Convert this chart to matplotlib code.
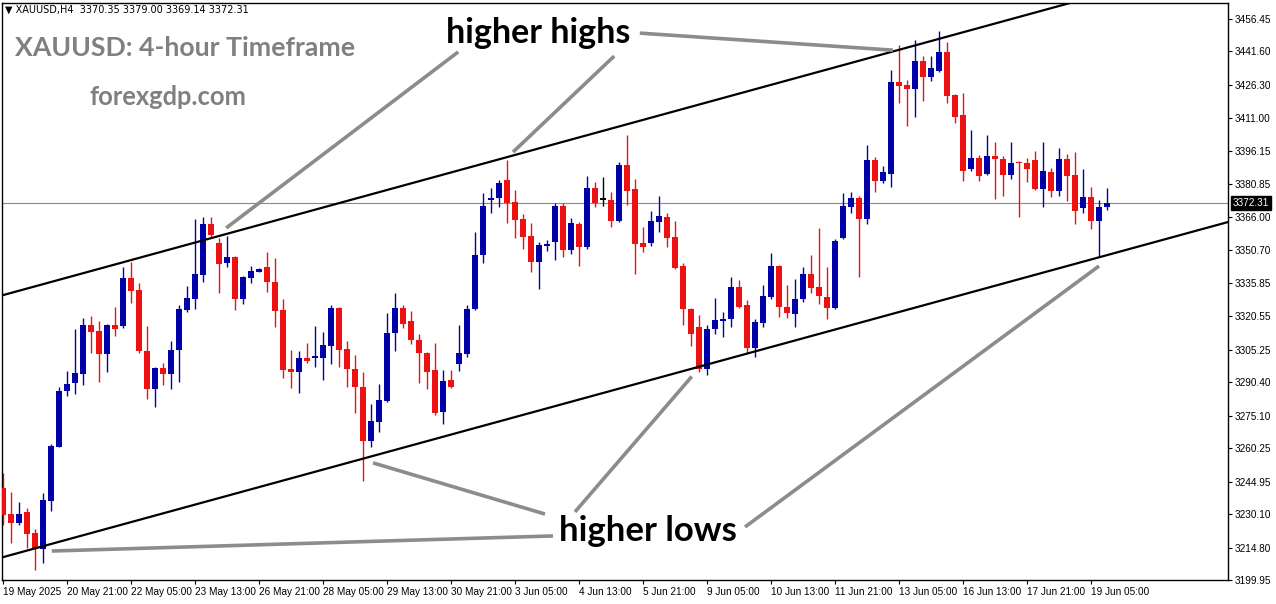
import numpy as np
import matplotlib.pyplot as plt

# XAUUSD H4 candles, 19 May 2025 - 19 Jun 2025
opens = [3242.0, 3230.1, 3226.0, 3231.1, 3221.5, 3214.1, 3236.1, 3260.8, 3286.4, 3290.0,
         3294.2, 3316.6, 3313.8, 3303.3, 3316.6, 3316.1, 3338.0, 3332.6, 3304.7, 3287.3,
         3296.9, 3294.2, 3305.1, 3323.4, 3328.4, 3339.4, 3362.7, 3354.0, 3344.9, 3347.6,
         3328.4, 3338.0, 3340.8, 3343.1, 3336.2, 3323.4, 3296.4, 3295.1, 3301.5, 3301.5,
         3301.5, 3306.9, 3324.3, 3305.6, 3296.4, 3288.2, 3263.5, 3272.2, 3281.8, 3312.9,
         3324.3, 3318.4, 3309.7, 3303.8, 3296.0, 3276.8, 3291.4, 3298.7, 3303.3, 3323.9,
         3348.6, 3373.7, 3374.6, 3382.8, 3372.8, 3365.0, 3357.2, 3345.4, 3352.7, 3354.5,
         3371.0, 3350.8, 3362.7, 3352.2, 3379.2, 3373.7, 3373.7, 3364.1, 3389.7, 3378.7,
         3354.0, 3354.0, 3363.6, 3365.9, 3356.8, 3343.5, 3323.9, 3315.6, 3296.4, 3314.7,
         3318.4, 3319.3, 3333.9, 3325.7, 3306.0, 3317.5, 3329.4, 3343.5, 3324.8, 3321.6,
         3328.4, 3339.9, 3333.9, 3329.4, 3324.3, 3356.3, 3370.5, 3374.6, 3365.0, 3392.0,
         3382.4, 3385.6, 3427.7, 3426.3, 3424.5, 3437.3, 3429.9, 3432.7, 3441.4, 3421.7,
         3412.6, 3387.9, 3392.9, 3385.6, 3393.8, 3392.5, 3385.1, 3390.9, 3390.6, 3392.0,
         3378.7, 3386.5, 3377.8, 3392.5, 3385.1, 3370.0, 3375.1, 3364.1, 3370.35]
closes = [3229.7, 3226.0, 3230.1, 3221.0, 3214.1, 3236.5, 3261.2, 3286.4, 3289.6, 3294.6,
          3316.6, 3313.4, 3303.3, 3316.6, 3314.7, 3338.0, 3332.1, 3304.7, 3287.3, 3296.9,
          3294.2, 3305.1, 3323.9, 3328.9, 3339.9, 3362.7, 3357.7, 3344.4, 3347.6, 3328.4,
          3338.5, 3341.2, 3342.2, 3336.2, 3323.0, 3296.0, 3295.1, 3301.5, 3300.1, 3301.9,
          3307.4, 3324.3, 3305.1, 3296.4, 3288.2, 3263.5, 3272.7, 3282.3, 3312.9, 3324.3,
          3317.0, 3309.7, 3303.8, 3295.1, 3276.3, 3291.0, 3288.2, 3303.8, 3323.9, 3348.6,
          3371.0, 3374.6, 3381.5, 3372.3, 3364.6, 3356.8, 3345.4, 3353.1, 3353.6, 3371.0,
          3350.8, 3363.2, 3352.2, 3379.2, 3372.3, 3373.7, 3364.1, 3389.7, 3377.8, 3353.6,
          3352.2, 3364.1, 3366.4, 3356.3, 3342.6, 3323.9, 3312.4, 3296.4, 3314.7, 3318.8,
          3319.3, 3333.9, 3324.8, 3306.0, 3317.9, 3329.8, 3343.5, 3324.8, 3322.0, 3328.4,
          3339.9, 3333.5, 3329.8, 3324.3, 3355.0, 3371.0, 3374.6, 3365.0, 3392.0, 3382.4,
          3386.5, 3427.7, 3425.8, 3424.5, 3437.3, 3429.9, 3434.1, 3441.4, 3421.3, 3411.7,
          3387.0, 3392.9, 3384.7, 3393.8, 3392.5, 3385.1, 3390.6, 3390.4, 3387.9, 3378.7,
          3387.0, 3377.8, 3392.5, 3384.7, 3368.7, 3375.1, 3364.1, 3370.5, 3372.31]
highs = [3248.9, 3240.2, 3235.6, 3232.9, 3223.3, 3239.7, 3262.1, 3288.2, 3295.5, 3314.7,
         3319.8, 3320.7, 3318.4, 3317.0, 3324.8, 3343.1, 3345.4, 3335.8, 3316.1, 3297.3,
         3299.2, 3309.2, 3325.7, 3334.4, 3365.0, 3365.9, 3365.9, 3356.3, 3357.2, 3348.0,
         3339.0, 3343.5, 3342.6, 3349.9, 3347.2, 3328.4, 3305.1, 3304.7, 3308.3, 3316.1,
         3313.4, 3325.7, 3324.8, 3309.2, 3302.8, 3295.1, 3280.4, 3289.6, 3322.0, 3331.2,
         3325.7, 3323.0, 3312.4, 3304.2, 3308.3, 3296.0, 3296.0, 3316.6, 3325.7, 3359.1,
         3376.9, 3379.2, 3382.8, 3392.0, 3378.3, 3367.3, 3363.2, 3354.5, 3355.4, 3372.3,
         3372.3, 3365.5, 3363.6, 3384.7, 3381.9, 3384.2, 3377.4, 3391.1, 3403.4, 3383.3,
         3361.4, 3368.7, 3375.5, 3367.8, 3364.1, 3344.9, 3324.3, 3321.1, 3316.6, 3328.9,
         3322.5, 3338.5, 3337.1, 3328.0, 3319.3, 3334.8, 3349.5, 3344.0, 3334.8, 3337.6,
         3343.1, 3348.6, 3360.9, 3343.1, 3355.9, 3376.9, 3377.4, 3375.5, 3398.9, 3393.4,
         3389.2, 3433.1, 3444.6, 3428.6, 3446.9, 3439.5, 3439.5, 3451.0, 3445.9, 3422.1,
         3422.6, 3405.7, 3394.3, 3403.4, 3400.2, 3393.8, 3400.2, 3391.5, 3392.9, 3396.1,
         3400.2, 3388.3, 3397.5, 3394.7, 3395.7, 3387.9, 3379.6, 3373.7, 3379.00]
lows = [3225.1, 3216.9, 3225.1, 3214.6, 3204.5, 3207.7, 3231.5, 3260.8, 3284.1, 3285.0,
        3289.1, 3303.8, 3290.5, 3295.1, 3311.5, 3315.2, 3326.6, 3303.8, 3282.7, 3279.1,
        3289.1, 3287.3, 3290.5, 3322.5, 3323.9, 3336.2, 3356.3, 3331.2, 3343.1, 3323.4,
        3326.2, 3335.8, 3340.8, 3331.6, 3315.6, 3292.3, 3287.8, 3285.5, 3299.2, 3297.4,
        3291.4, 3298.7, 3297.4, 3288.2, 3276.3, 3245.2, 3260.8, 3267.6, 3281.3, 3304.7,
        3315.2, 3307.9, 3290.0, 3287.3, 3275.4, 3271.3, 3287.8, 3295.5, 3301.9, 3323.4,
        3344.9, 3367.8, 3370.5, 3363.2, 3356.3, 3351.3, 3340.8, 3333.0, 3350.4, 3346.3,
        3347.6, 3349.0, 3343.5, 3351.3, 3370.5, 3371.0, 3361.4, 3363.6, 3371.4, 3339.9,
        3349.9, 3352.7, 3359.1, 3352.2, 3342.2, 3316.6, 3307.0, 3295.1, 3293.7, 3312.4,
        3311.1, 3315.6, 3324.3, 3303.8, 3301.9, 3315.6, 3328.4, 3320.2, 3319.8, 3315.6,
        3327.1, 3331.2, 3326.2, 3319.3, 3323.9, 3355.9, 3367.8, 3338.5, 3362.7, 3377.4,
        3381.5, 3379.6, 3418.1, 3407.5, 3411.7, 3419.0, 3428.1, 3432.2, 3418.1, 3408.9,
        3382.4, 3387.0, 3382.4, 3385.1, 3374.2, 3375.5, 3383.3, 3365.9, 3381.9, 3378.3,
        3370.5, 3375.1, 3375.5, 3373.2, 3362.7, 3367.8, 3360.4, 3347.6, 3369.14]

date_labels = ["19 May 2025", "20 May 21:00", "22 May 05:00", "23 May 13:00", "26 May 21:00",
               "28 May 05:00", "29 May 13:00", "30 May 21:00", "3 Jun 05:00", "4 Jun 13:00",
               "5 Jun 21:00", "9 Jun 05:00", "10 Jun 13:00", "11 Jun 21:00", "13 Jun 05:00",
               "16 Jun 13:00", "17 Jun 21:00", "19 Jun 05:00"]
price_ticks = [3456.45, 3441.60, 3426.30, 3411.00, 3396.15, 3380.85, 3366.00, 3350.70, 3335.85,
               3320.55, 3305.25, 3290.40, 3275.10, 3260.25, 3244.95, 3230.10, 3214.80, 3199.95]
last_price = 3372.31

# channel lines: two points each (bar index, price)
upper_channel = [(0, 3330.2), (133.4, 3463.8)]
lower_channel = [(0, 3210.4), (153.1, 3363.6)]

# pointer lines from the labels to the swing points (bar index, price)
highs_pointers = [((56.9, 3441.4), (27.9, 3360.9)),
                  ((76.4, 3439.5), (63.75, 3395.6)),
                  ((79.6, 3450.0), (111.25, 3442.2))]
lows_pointers = [((68.75, 3220.1), (6.1, 3213.2)),
                 ((67.75, 3230.1), (46.25, 3253.5)),
                 ((71.5, 3231.1), (86.1, 3293.0)),
                 ((92.75, 3224.2), (137.0, 3343.5))]

BLUE = '#0000a8'
RED = '#ee1111'
TICK_FONT = 'Liberation Sans'

o = np.array(opens)
c = np.array(closes)
h = np.array(highs)
l = np.array(lows)
idx = np.arange(len(o))
colors = np.where(c > o, BLUE, np.where(c < o, RED, 'black'))

fig = plt.figure(figsize=(12.76, 6.04), dpi=100)
ax = fig.add_axes([2.5 / 1276, 24 / 604, 1225.5 / 1276, 577 / 604])

ax.axhline(last_price, color='#8a8a8a', lw=0.8, zorder=1)

ax.vlines(idx, l, h, colors=colors, lw=1.0, zorder=2)
body_h = np.maximum(np.abs(c - o), 0.7)
ax.bar(idx, body_h, bottom=np.minimum(o, c), width=0.64, color=colors, lw=0, zorder=3)

for p1, p2 in (upper_channel, lower_channel):
    ax.axline(p1, p2, color='black', lw=1.6, zorder=4)

for start, end in highs_pointers + lows_pointers:
    ax.plot([start[0], end[0]], [start[1], end[1]], color='#8c8c8c', lw=2.6,
            solid_capstyle='butt', zorder=5)

ax.text(66.9, 3450.0, 'higher highs', fontsize=24.5, fontweight='bold', family='Lato',
        ha='center', va='center', zorder=6)
ax.text(80.6, 3222.4, 'higher lows', fontsize=25, fontweight='bold', family='Lato',
        ha='center', va='center', zorder=6)

ax.set_xlim(-0.0625, 153.125)
ax.set_ylim(3199.96, 3463.77)

ax.set_xticks(idx[::8][:len(date_labels)])
ax.set_xticklabels(date_labels, fontsize=7.2, ha='left', family=TICK_FONT)
ax.yaxis.tick_right()
ax.set_yticks(price_ticks)
ax.set_yticklabels(['%.2f' % v for v in price_ticks], fontsize=7.2, family=TICK_FONT)
ax.tick_params(axis='both', direction='out', length=3, width=0.8, pad=2)
for s in ax.spines.values():
    s.set_linewidth(1.0)

ax.text(1.004, last_price, '%.2f' % last_price, transform=ax.get_yaxis_transform(),
        fontsize=7.2, family=TICK_FONT, color='white', ha='left', va='center',
        bbox=dict(boxstyle='square,pad=0.2', fc='black', ec='black'))

fig.text(5 / 1276, 1 - 10 / 604, '\u25bc XAUUSD,H4  3370.35 3379.00 3369.14 3372.31',
         fontsize=7, va='center', ha='left')
fig.text(15 / 1276, 1 - 48 / 604, 'XAUUSD: 4-hour Timeframe', fontsize=19.2,
         fontweight='bold', family='Lato', color='#808080', va='center', ha='left')
fig.text(90 / 1276, 1 - 97 / 604, 'forexgdp.com', fontsize=18.4,
         fontweight='bold', family='Lato', color='#808080', va='center', ha='left')

fig.savefig('out.png', dpi=100)
